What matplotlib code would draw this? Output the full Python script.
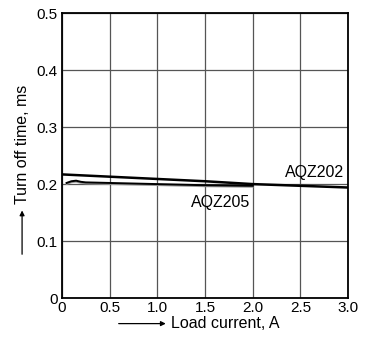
import matplotlib.pyplot as plt

plt.rcParams['font.family'] = ['Liberation Sans', 'DejaVu Sans']

# AQZ202 (upper line)
x202 = [0.0, 0.5, 1.0, 1.5, 2.0, 2.5, 3.0]
y202 = [0.217, 0.213, 0.209, 0.205, 0.200, 0.197, 0.194]

# AQZ205 (lower line, ends at 2.0 A)
x205 = [0.05, 0.1, 0.15, 0.2, 0.25, 0.5, 1.0, 1.5, 2.0]
y205 = [0.202, 0.205, 0.206, 0.204, 0.203, 0.202, 0.200, 0.198, 0.197]

xticks = [0, 0.5, 1.0, 1.5, 2.0, 2.5, 3.0]
xticklabels = ['0', '0.5', '1.0', '1.5', '2.0', '2.5', '3.0']
yticks = [0, 0.1, 0.2, 0.3, 0.4, 0.5]
yticklabels = ['0', '0.1', '0.2', '0.3', '0.4', '0.5']

fig = plt.figure(figsize=(3.68, 3.45), dpi=100)
ax = fig.add_axes([0.168, 0.136, 0.778, 0.826])

ax.plot(x205, [v - 0.002 for v in y205], color='#999999', lw=1.2)
ax.plot(x205, y205, color='black', lw=1.4)
ax.plot(x202, y202, color='black', lw=1.8)

ax.set_xlim(0, 3.0)
ax.set_ylim(0, 0.5)
ax.set_xticks(xticks)
ax.set_xticklabels(xticklabels)
ax.set_yticks(yticks)
ax.set_yticklabels(yticklabels)
ax.tick_params(length=0, labelsize=11, pad=3)
ax.tick_params(axis='x', pad=2)
ax.grid(True, color='#555555', lw=0.9)
for s in ax.spines.values():
    s.set_linewidth(1.3)

ax.text(2.65, 0.221, 'AQZ202', fontsize=11.5, ha='center', va='center')
ax.text(1.66, 0.167, 'AQZ205', fontsize=11.5, ha='center', va='center')

# axis labels with arrows
fig.text(0.466, 0.062, 'Load current, A', fontsize=11.5, ha='left', va='center')
ax.annotate('', xy=(0.458, 0.062), xytext=(0.315, 0.062), xycoords='figure fraction',
            arrowprops=dict(arrowstyle='-|>', color='black', lw=0.9, mutation_scale=7))
fig.text(0.06, 0.408, 'Turn off time, ms', fontsize=11.5, rotation=90, ha='center', va='bottom')
ax.annotate('', xy=(0.06, 0.398), xytext=(0.06, 0.255), xycoords='figure fraction',
            arrowprops=dict(arrowstyle='-|>', color='black', lw=0.9, mutation_scale=7))

fig.savefig('out.png', dpi=100)
